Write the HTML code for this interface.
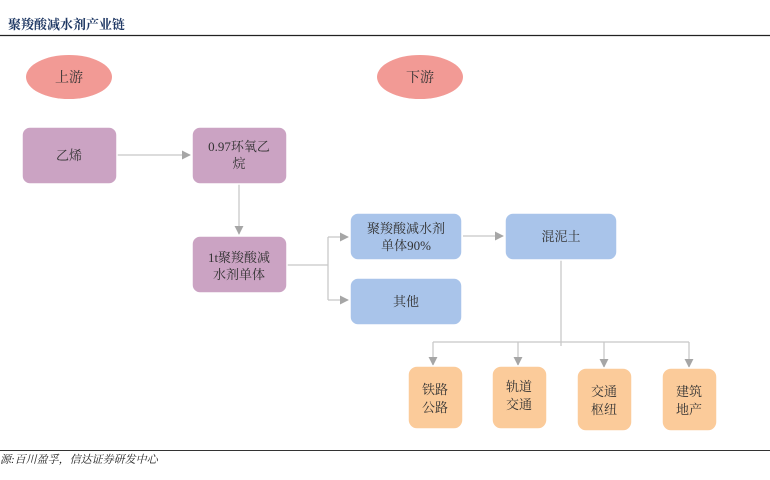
<!DOCTYPE html>
<html><head><meta charset="utf-8"><style>
body{margin:0;background:#fff;}
svg{display:block;font-family:"Liberation Serif","Noto Serif CJK SC",serif;}
</style></head><body>
<svg width="770" height="480" viewBox="0 0 770 480" xmlns="http://www.w3.org/2000/svg">
<defs><marker id="a" viewBox="0 0 10 10" refX="9" refY="5" markerWidth="7" markerHeight="7" orient="auto"><path d="M0,0L10,5L0,10z" fill="#a6a6a6"/></marker></defs>
<text x="8" y="29" font-size="13" font-weight="bold" fill="#1f3864">聚羧酸减水剂产业链</text>
<line x1="0" y1="35.5" x2="770" y2="35.5" stroke="#222" stroke-width="1.2"/>
<ellipse cx="69" cy="77" rx="43" ry="22" fill="#f29a95"/>
<text x="69" y="82" font-size="14" text-anchor="middle" fill="#333">上游</text>
<ellipse cx="420" cy="77" rx="43" ry="22" fill="#f29a95"/>
<text x="420" y="82" font-size="14" text-anchor="middle" fill="#333">下游</text>
<g stroke="#c8c8c8" stroke-width="1.3" fill="none">
<line x1="117" y1="155" x2="190" y2="155" marker-end="url(#a)"/>
<line x1="239" y1="184" x2="239" y2="234" marker-end="url(#a)"/>
<line x1="287" y1="265" x2="328" y2="265"/>
<line x1="328" y1="237" x2="328" y2="300"/>
<line x1="328" y1="237" x2="348" y2="237" marker-end="url(#a)"/>
<line x1="328" y1="300" x2="348" y2="300" marker-end="url(#a)"/>
<line x1="463" y1="236" x2="503" y2="236" marker-end="url(#a)"/>
<line x1="561" y1="260" x2="561" y2="346"/>
<line x1="433" y1="342" x2="689" y2="342"/>
<line x1="433" y1="342" x2="433" y2="365" marker-end="url(#a)"/>
<line x1="518" y1="342" x2="518" y2="365" marker-end="url(#a)"/>
<line x1="604" y1="342" x2="604" y2="367" marker-end="url(#a)"/>
<line x1="689" y1="342" x2="689" y2="367" marker-end="url(#a)"/>
</g>
<g stroke="#fff" stroke-width="1.5">
<rect x="22" y="127" width="95" height="57" rx="8" fill="#cba3c3"/>
<rect x="192" y="127" width="95" height="57" rx="8" fill="#cba3c3"/>
<rect x="192" y="236" width="95" height="57" rx="8" fill="#cba3c3"/>
<rect x="350" y="213" width="112" height="47" rx="8" fill="#a9c4ea"/>
<rect x="350" y="278" width="112" height="47" rx="8" fill="#a9c4ea"/>
<rect x="505" y="213" width="112" height="47" rx="8" fill="#a9c4ea"/>
<rect x="408" y="366" width="55" height="63" rx="9" fill="#fbcb9a"/>
<rect x="492" y="366" width="55" height="63" rx="9" fill="#fbcb9a"/>
<rect x="577" y="368" width="55" height="63" rx="9" fill="#fbcb9a"/>
<rect x="662" y="368" width="55" height="63" rx="9" fill="#fbcb9a"/>
</g>
<g font-size="13" fill="#333" text-anchor="middle">
<text x="69" y="160">乙烯</text>
<text x="239" y="151">0.97环氧乙</text><text x="239" y="168">烷</text>
<text x="239" y="262">1t聚羧酸减</text><text x="239" y="279">水剂单体</text>
<text x="406" y="233">聚羧酸减水剂</text><text x="406" y="250">单体90%</text>
<text x="406" y="306">其他</text>
<text x="561" y="241">混泥土</text>
<text x="435" y="394">铁路</text><text x="435" y="412">公路</text>
<text x="519" y="391">轨道</text><text x="519" y="409">交通</text>
<text x="604" y="396">交通</text><text x="604" y="414">枢纽</text>
<text x="689" y="396">建筑</text><text x="689" y="414">地产</text>
</g>
<line x1="0" y1="450.5" x2="770" y2="450.5" stroke="#333" stroke-width="1"/>
<text x="0" y="463" font-size="11" font-style="italic" fill="#222">源:百川盈孚，信达证券研发中心</text>
</svg>
</body></html>
